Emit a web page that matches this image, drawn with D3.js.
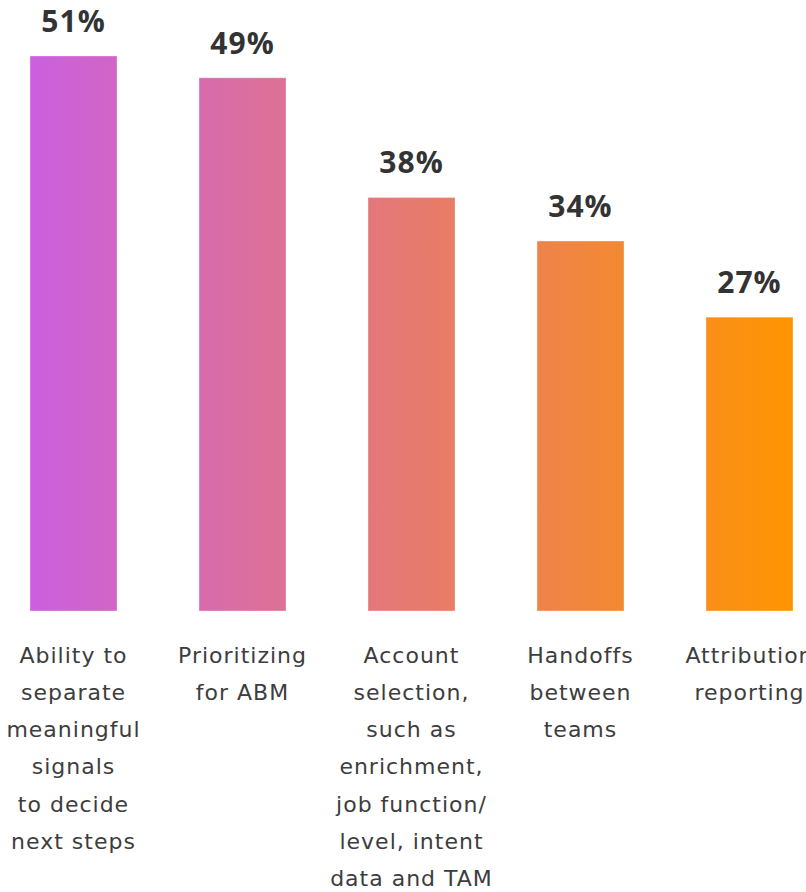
<!DOCTYPE html>
<html><head><meta charset="utf-8">
<script src="https://cdn.jsdelivr.net/npm/d3@7"></script>
<style>
html,body{margin:0;padding:0;background:#fff;overflow:hidden}
svg{display:block}
</style></head>
<body>
<svg id="chart" width="806" height="892"></svg>
<script>
const categories = ["c1","c2","c3","c4","c5"];
const labelLines = [
  ["Ability to","separate","meaningful","signals","to decide","next steps"],
  ["Prioritizing","for ABM"],
  ["Account","selection,","such as","enrichment,","job function/","level, intent","data and TAM"],
  ["Handoffs","between","teams"],
  ["Attribution","reporting"]
];
const values = [51, 49, 38, 34, 27];
const valueLabels = ["51%","49%","38%","34%","27%"];

const svg = d3.select("#chart");
const x = d3.scaleBand().domain(categories).range([30, 793]).paddingInner(0.485).paddingOuter(0);
const y = d3.scaleLinear().domain([0, 51]).range([611, 56]);

const defs = svg.append("defs");
const grad = defs.append("linearGradient").attr("id","g").attr("gradientUnits","userSpaceOnUse")
  .attr("x1", x("c1")).attr("x2", x("c5") + x.bandwidth()).attr("y1",0).attr("y2",0);
grad.append("stop").attr("offset","0%").attr("stop-color","#cb5fdf");
grad.append("stop").attr("offset","50%").attr("stop-color","#e67a70");
grad.append("stop").attr("offset","100%").attr("stop-color","#ff9500");

svg.selectAll("rect.bar").data(values).join("rect").attr("class","bar")
  .attr("x",(d,i)=>x(categories[i])).attr("width",x.bandwidth())
  .attr("y",d=>y(d)).attr("height",d=>y(0)-y(d))
  .attr("fill","url(#g)").attr("stroke","rgba(255,255,255,0.35)").attr("stroke-width",1);

svg.selectAll("text.val").data(values).join("text").attr("class","val")
  .attr("x",(d,i)=>x(categories[i])+x.bandwidth()/2)
  .attr("y",d=>y(d)-24)
  .attr("text-anchor","middle")
  .attr("font-family","'Open Sans', sans-serif").attr("font-weight",700).attr("font-size",30)
  .attr("letter-spacing",1)
  .attr("fill","#333")
  .text((d,i)=>valueLabels[i]);

const lab = svg.selectAll("text.cat").data(labelLines).join("text").attr("class","cat")
  .attr("text-anchor","middle")
  .attr("font-family","'DejaVu Sans', sans-serif").attr("font-size",22)
  .attr("letter-spacing",1)
  .attr("fill","#3d3d3d");
lab.each(function(lines,i){
  const cx = x(categories[i]) + x.bandwidth()/2;
  d3.select(this).selectAll("tspan").data(lines).join("tspan")
    .attr("x",cx).attr("y",(d,j)=>662.5 + j*37.3).text(d=>d);
});
</script>
</body></html>
